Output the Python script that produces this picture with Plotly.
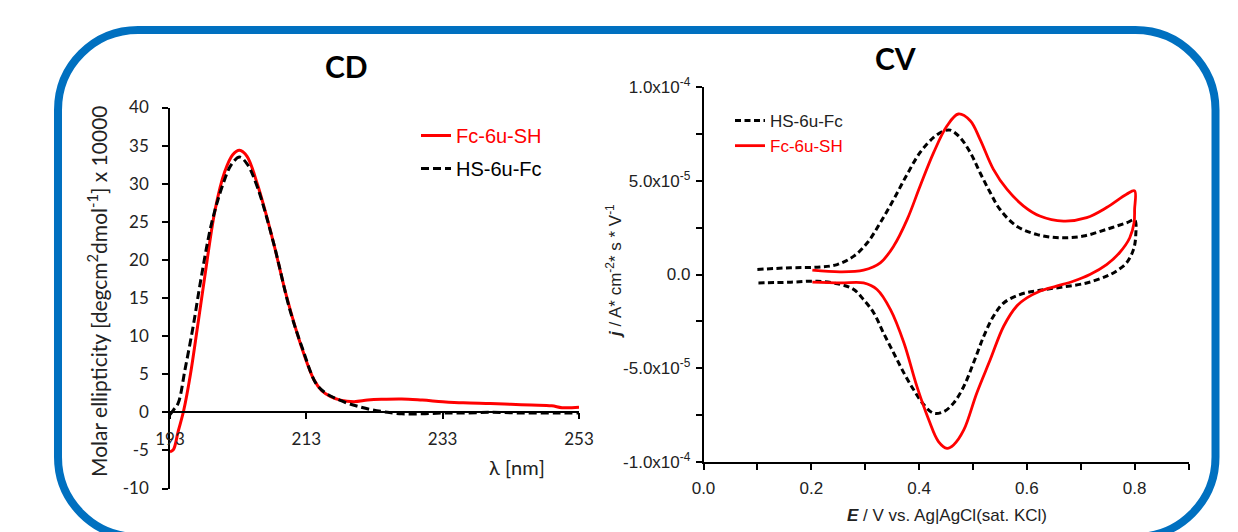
import plotly.graph_objects as go

W, H = 1238, 532

# ---------------- CD data ----------------
cd_fc_wl = [193, 193.5, 194.2, 195.0, 196.0, 197.0, 198.1, 199.6, 201.0, 202.2, 203.2, 204.3,
            205.8, 207.0, 208.2, 210.1, 212.1, 214.1, 215.3, 216.5, 218, 220, 222, 224, 227,
            230, 233, 236, 240, 243, 246, 249, 250.5, 253]
cd_fc_val = [-5.2, -4.9, -2.5, 0.2, 5.0, 11.0, 17.8, 26.5, 31.5, 33.8, 34.4, 33.6,
             30.0, 26.3, 22.2, 15.2, 9.1, 4.3, 2.8, 2.1, 1.6, 1.4, 1.6, 1.7, 1.75,
             1.6, 1.4, 1.25, 1.15, 1.05, 0.95, 0.85, 0.6, 0.65]

cd_hs_wl = [193, 193.5, 194.2, 195.2, 196.4, 197.6, 199.1, 200.8, 202.0, 203.2, 204.3, 205.8,
            208.2, 210.6, 212.5, 214.4, 215.7, 217.1, 219, 220.5, 222.5, 224.5, 227, 230,
            233, 236, 240, 245, 250, 253]
cd_hs_val = [-0.3, 0.3, 1.2, 5.6, 11.3, 17.8, 24.8, 30.0, 32.5, 33.5, 32.6, 29.6,
             22.2, 13.4, 8.2, 3.8, 2.6, 1.9, 1.2, 0.8, 0.35, 0.05, -0.2, -0.2,
             -0.1, -0.1, 0.0, -0.1, -0.1, -0.1]

cd_yticks = [-10, -5, 0, 5, 10, 15, 20, 25, 30, 35, 40]
cd_yticktext = ["-10", "-5", "0", "5", "10", "15", "20", "25", "30", "35", "40"]
cd_xticks = [193, 213, 233, 253]

# ---------------- CV data ----------------
cv_hs_E = [0.100, 0.162, 0.211, 0.248, 0.279, 0.304, 0.328, 0.353, 0.378, 0.402, 0.427, 0.446,
           0.458, 0.476, 0.495, 0.513, 0.532, 0.550, 0.581, 0.618, 0.661, 0.705, 0.748, 0.785,
           0.800, 0.802, 0.798, 0.785, 0.766, 0.748, 0.711, 0.668, 0.624, 0.587, 0.557, 0.538,
           0.520, 0.501, 0.483, 0.464, 0.446, 0.427, 0.409, 0.390, 0.372, 0.353, 0.334, 0.316,
           0.297, 0.279, 0.254, 0.211, 0.162, 0.100]
cv_hs_j = [0.27e-5, 0.36e-5, 0.39e-5, 0.53e-5, 0.98e-5, 1.69e-5, 2.76e-5, 4.01e-5, 5.35e-5, 6.51e-5, 7.31e-5, 7.66e-5,
           7.70e-5, 7.31e-5, 6.51e-5, 5.44e-5, 4.37e-5, 3.48e-5, 2.58e-5, 2.14e-5, 1.96e-5, 2.05e-5, 2.41e-5, 2.76e-5,
           2.90e-5, 2.05e-5, 1.34e-5, 0.62e-5, 0.18e-5, -0.09e-5, -0.45e-5, -0.66e-5, -0.84e-5, -1.07e-5, -1.52e-5, -2.23e-5,
           -3.30e-5, -4.72e-5, -5.97e-5, -6.86e-5, -7.31e-5, -7.40e-5, -6.95e-5, -6.15e-5, -5.26e-5, -4.19e-5, -3.12e-5, -2.05e-5,
           -1.34e-5, -0.80e-5, -0.53e-5, -0.36e-5, -0.41e-5, -0.45e-5]

cv_fc_E = [0.202, 0.254, 0.297, 0.328, 0.353, 0.378, 0.402, 0.427, 0.452, 0.473, 0.495, 0.513,
           0.538, 0.563, 0.594, 0.624, 0.668, 0.711, 0.748, 0.785, 0.800, 0.800, 0.799, 0.791,
           0.772, 0.748, 0.717, 0.686, 0.655, 0.624, 0.600, 0.581, 0.557, 0.532, 0.507, 0.483,
           0.464, 0.452, 0.436, 0.418, 0.396, 0.372, 0.347, 0.322, 0.297, 0.254, 0.202]
cv_fc_j = [0.23e-5, 0.14e-5, 0.23e-5, 0.62e-5, 1.52e-5, 2.94e-5, 4.72e-5, 6.50e-5, 7.93e-5, 8.56e-5, 8.20e-5, 7.22e-5,
           5.61e-5, 4.55e-5, 3.65e-5, 3.12e-5, 2.85e-5, 3.03e-5, 3.57e-5, 4.28e-5, 4.46e-5, 3.48e-5, 2.76e-5, 1.96e-5,
           1.16e-5, 0.53e-5, 0.00e-5, -0.36e-5, -0.62e-5, -0.89e-5, -1.25e-5, -1.69e-5, -2.76e-5, -4.55e-5, -6.33e-5, -8.29e-5,
           -9.09e-5, -9.27e-5, -8.91e-5, -7.75e-5, -5.97e-5, -3.65e-5, -1.87e-5, -0.80e-5, -0.45e-5, -0.45e-5, -0.41e-5]

cv_xtickvals = [0.0, 0.1, 0.2, 0.3, 0.4, 0.5, 0.6, 0.7, 0.8, 0.9]
cv_xticktext = ["0.0", "", "0.2", "", "0.4", "", "0.6", "", "0.8", ""]
cv_ytickvals = [-1e-4, -7.5e-5, -5e-5, -2.5e-5, 0, 2.5e-5, 5e-5, 7.5e-5, 1e-4]
cv_yticktext = ["-1.0x10<sup>-4</sup>", "", "-5.0x10<sup>-5</sup>", "", "0.0", "",
                "5.0x10<sup>-5</sup>", "", "1.0x10<sup>-4</sup>"]


def px(x):
    return x / W


def py(y):
    return 1 - y / H


CAL = "Lato, 'Open Sans', sans-serif"
ARI = "'Liberation Sans', Arial, sans-serif"

fig = go.Figure()

# CD traces
fig.add_trace(go.Scatter(x=cd_fc_wl, y=cd_fc_val, mode="lines", line_shape="spline",
                         name="<span style='color:#ff0000'>Fc-6u-SH</span>", legendgroup="cdfc",
                         line=dict(color="#ff0000", width=3), xaxis="x", yaxis="y", legend="legend"))
fig.add_trace(go.Scatter(x=cd_hs_wl, y=cd_hs_val, mode="lines", line_shape="spline",
                         name="HS-6u-Fc", legendgroup="cdhs",
                         line=dict(color="#000000", width=3, dash="8px,4px"), xaxis="x", yaxis="y", legend="legend"))

# CV traces
fig.add_trace(go.Scatter(x=cv_hs_E, y=cv_hs_j, mode="lines", line_shape="spline",
                         name="HS-6u-Fc",
                         line=dict(color="#000000", width=3, dash="6px,3.5px"), xaxis="x2", yaxis="y2", legend="legend2"))
fig.add_trace(go.Scatter(x=cv_fc_E, y=cv_fc_j, mode="lines", line_shape="spline",
                         name="<span style='color:#ff0000'>Fc-6u-SH</span>",
                         line=dict(color="#ff0000", width=2.8), xaxis="x2", yaxis="y2", legend="legend2"))

# blue rounded frame
L, R, T, B, r = 58, 1215.5, 30, 537, 80
k = 0.5523 * r
path = (f"M{px(L + r)},{py(T)} L{px(R - r)},{py(T)} "
        f"C{px(R - r + k)},{py(T)} {px(R)},{py(T + r - k)} {px(R)},{py(T + r)} "
        f"L{px(R)},{py(B - r)} "
        f"C{px(R)},{py(B - r + k)} {px(R - r + k)},{py(B)} {px(R - r)},{py(B)} "
        f"L{px(L + r)},{py(B)} "
        f"C{px(L + r - k)},{py(B)} {px(L)},{py(B - r + k)} {px(L)},{py(B - r)} "
        f"L{px(L)},{py(T + r)} "
        f"C{px(L)},{py(T + r - k)} {px(L + r - k)},{py(T)} {px(L + r)},{py(T)} Z")

shapes = [dict(type="path", xref="paper", yref="paper", path=path,
               line=dict(color="#0070C0", width=8), fillcolor="rgba(0,0,0,0)", layer="below")]

annotations = [
    dict(text="<b>CD</b>", x=px(347), y=py(66), xref="paper", yref="paper", showarrow=False,
         xanchor="center", yanchor="middle", font=dict(family=CAL, size=30, color="#000")),
    dict(text="<b>CV</b>", x=px(895), y=py(58), xref="paper", yref="paper", showarrow=False,
         xanchor="center", yanchor="middle", font=dict(family=CAL, size=30, color="#000")),
    dict(text="Molar ellipticity [degcm<sup>2</sup>dmol<sup>-1</sup>] x 10000", textangle=-90,
         x=px(97), y=py(291), xref="paper", yref="paper", showarrow=False,
         xanchor="center", yanchor="middle", font=dict(family=CAL, size=21, color="#222")),
    dict(text="λ [nm]", x=px(517), y=py(467), xref="paper", yref="paper", showarrow=False,
         xanchor="center", yanchor="middle", font=dict(family=CAL, size=20, color="#222")),
    dict(text="<b><i>j</i></b> / A* cm<sup>-2</sup>* s * V<sup>-1</sup>", textangle=-90,
         x=px(614), y=py(271), xref="paper", yref="paper", showarrow=False,
         xanchor="center", yanchor="middle", font=dict(family=ARI, size=17, color="#222")),
    dict(text="<b><i>E</i></b> / V vs. Ag|AgCl(sat. KCl)",
         x=px(947), y=py(515), xref="paper", yref="paper", showarrow=False,
         xanchor="center", yanchor="middle", font=dict(family=ARI, size=17, color="#222")),
]

cd_y0 = 412.3
fig.update_layout(
    width=W, height=H, margin=dict(l=0, r=0, t=0, b=0, autoexpand=False),
    paper_bgcolor="white", plot_bgcolor="rgba(0,0,0,0)",
    shapes=shapes, annotations=annotations,
    xaxis=dict(domain=[px(170), px(579)], range=[193, 253], anchor="free", position=py(cd_y0),
               tickvals=cd_xticks, ticks="outside", ticklen=6, tickwidth=1.5, tickcolor="#000",
               showline=True, linecolor="#000", linewidth=1.5, showgrid=False, zeroline=False,
               ticklabelstandoff=6, automargin=False,
               tickfont=dict(family=CAL, size=17, color="#222")),
    yaxis=dict(domain=[py(488.5), py(107.5)], range=[-10, 40], anchor="x",
               tickvals=cd_yticks, ticktext=cd_yticktext, ticks="outside", ticklen=6, tickwidth=1.5,
               tickcolor="#000", automargin=False,
               showline=True, linecolor="#000", linewidth=1.5, showgrid=False, zeroline=False,
               ticklabelstandoff=10,
               tickfont=dict(family=CAL, size=17, color="#222")),
    xaxis2=dict(domain=[px(703.5), px(1188.5)], range=[0, 0.9], anchor="y2",
                tickvals=cv_xtickvals, ticktext=cv_xticktext, ticks="outside", ticklen=6,
                tickwidth=1.5, tickcolor="#000", showline=True, linecolor="#000", linewidth=1.5,
                showgrid=False, zeroline=False, ticklabelstandoff=4, automargin=False,
                tickfont=dict(family=ARI, size=17, color="#222")),
    yaxis2=dict(domain=[py(462), py(87)], range=[-1e-4, 1e-4], anchor="x2",
                tickvals=cv_ytickvals, ticktext=cv_yticktext, ticks="outside", ticklen=6,
                tickwidth=1.5, tickcolor="#000", showline=True, linecolor="#000", linewidth=1.5,
                showgrid=False, zeroline=False, ticklabelstandoff=2, automargin=False,
                tickfont=dict(family=ARI, size=17, color="#222")),
    xaxis3=dict(domain=[px(703.5), px(1188.5)], range=[0, 0.9], anchor="y2", overlaying="x2",
                side="top", tickvals=cv_xtickvals, ticks="inside", ticklen=6, tickwidth=1.5,
                tickcolor="#000", showticklabels=False, showline=True, linecolor="#000",
                linewidth=1.5, showgrid=False, zeroline=False, automargin=False),
    yaxis3=dict(domain=[py(462), py(87)], range=[-1e-4, 1e-4], anchor="x2", overlaying="y2",
                side="right", tickvals=cv_ytickvals, ticks="inside", ticklen=6, tickwidth=1.5,
                tickcolor="#000", showticklabels=False, showline=True, linecolor="#000",
                linewidth=1.5, showgrid=False, zeroline=False, automargin=False),
    legend=dict(x=px(416), y=py(116), xanchor="left", yanchor="top", bgcolor="rgba(0,0,0,0)",
                font=dict(family=ARI, size=20, color="#000"), tracegroupgap=4, itemwidth=30),
    legend2=dict(x=px(730), y=py(103), xanchor="left", yanchor="top", bgcolor="rgba(0,0,0,0)",
                 font=dict(family=ARI, size=17, color="#222"), tracegroupgap=0, itemwidth=30),
    showlegend=True,
)

fig.write_html("out.html")
